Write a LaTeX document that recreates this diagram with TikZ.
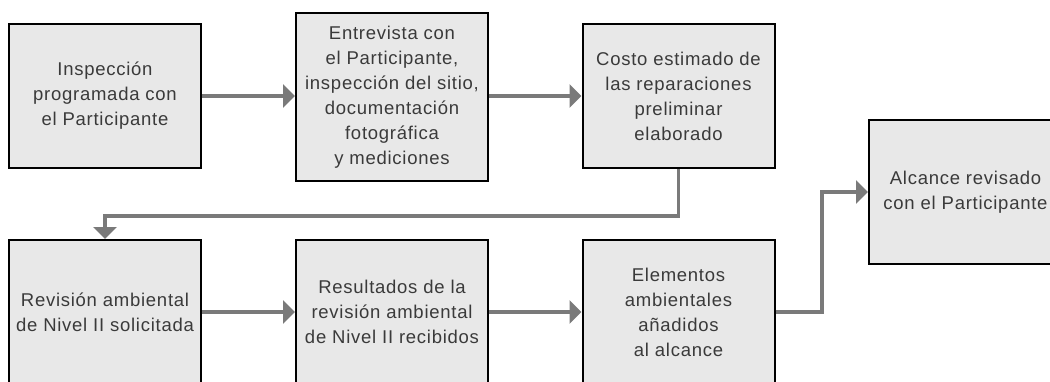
\documentclass[tikz,border=0pt]{standalone}
\usepackage{fontspec}
\setmainfont[LetterSpace=4]{Liberation Sans}
\usetikzlibrary{arrows.meta}
\definecolor{boxfill}{HTML}{E8E8E8}
\definecolor{txt}{HTML}{3A3A3A}
\definecolor{arr}{HTML}{7A7A7A}
\begin{document}
\begin{tikzpicture}[x=1pt,y=-1pt,
  stepbox/.style={draw=black,line width=2pt,fill=boxfill,text=txt,
    minimum width=192pt,minimum height=144pt,align=center,inner sep=2pt,
    font=\fontsize{18.5}{25}\selectfont},
  conn/.style={draw=arr,line width=3.5pt,
    -{Triangle[length=12pt,width=23pt]}}]
\useasboundingbox (0,0) rectangle (1050,381);
\clip (0,0) rectangle (1050,381);
\node[stepbox] (b1) at (105,96) {Inspección\\programada con\\el Participante};
\node[stepbox,minimum height=168pt] (b2) at (392,97) {Entrevista con\\el Participante,\\inspección del sitio,\\documentación\\fotográfica\\y mediciones};
\node[stepbox] (b3) at (678.5,96) {Costo estimado de\\las reparaciones\\preliminar\\elaborado};
\node[stepbox] (b4) at (105,312) {Revisión ambiental\\de Nivel II solicitada};
\node[stepbox] (b5) at (392,312) {Resultados de la\\revisión ambiental\\de Nivel II recibidos};
\node[stepbox] (b6) at (678.5,312) {Elementos\\ambientales\\añadidos\\al alcance};
\node[stepbox,minimum width=193pt] (b7) at (965.5,192) {Alcance revisado\\con el Participante};
\coordinate (t1) at (678.5,216);
\coordinate (t2) at (105,216);
\coordinate (u1) at (822,312);
\coordinate (u2) at (822,192);
\draw[conn] (b1.east |- 0,96) -- (b2.west |- 0,96);
\draw[conn] (b2.east |- 0,96) -- (b3.west |- 0,96);
\draw[conn,line join=miter] (b3.south) -- (t1) -- (t2) -- (b4.north);
\draw[conn] (b4.east) -- (b5.west);
\draw[conn] (b5.east) -- (b6.west);
\draw[conn,line join=miter] (b6.east) -- (u1) -- (u2) -- (b7.west);
\end{tikzpicture}
\end{document}
